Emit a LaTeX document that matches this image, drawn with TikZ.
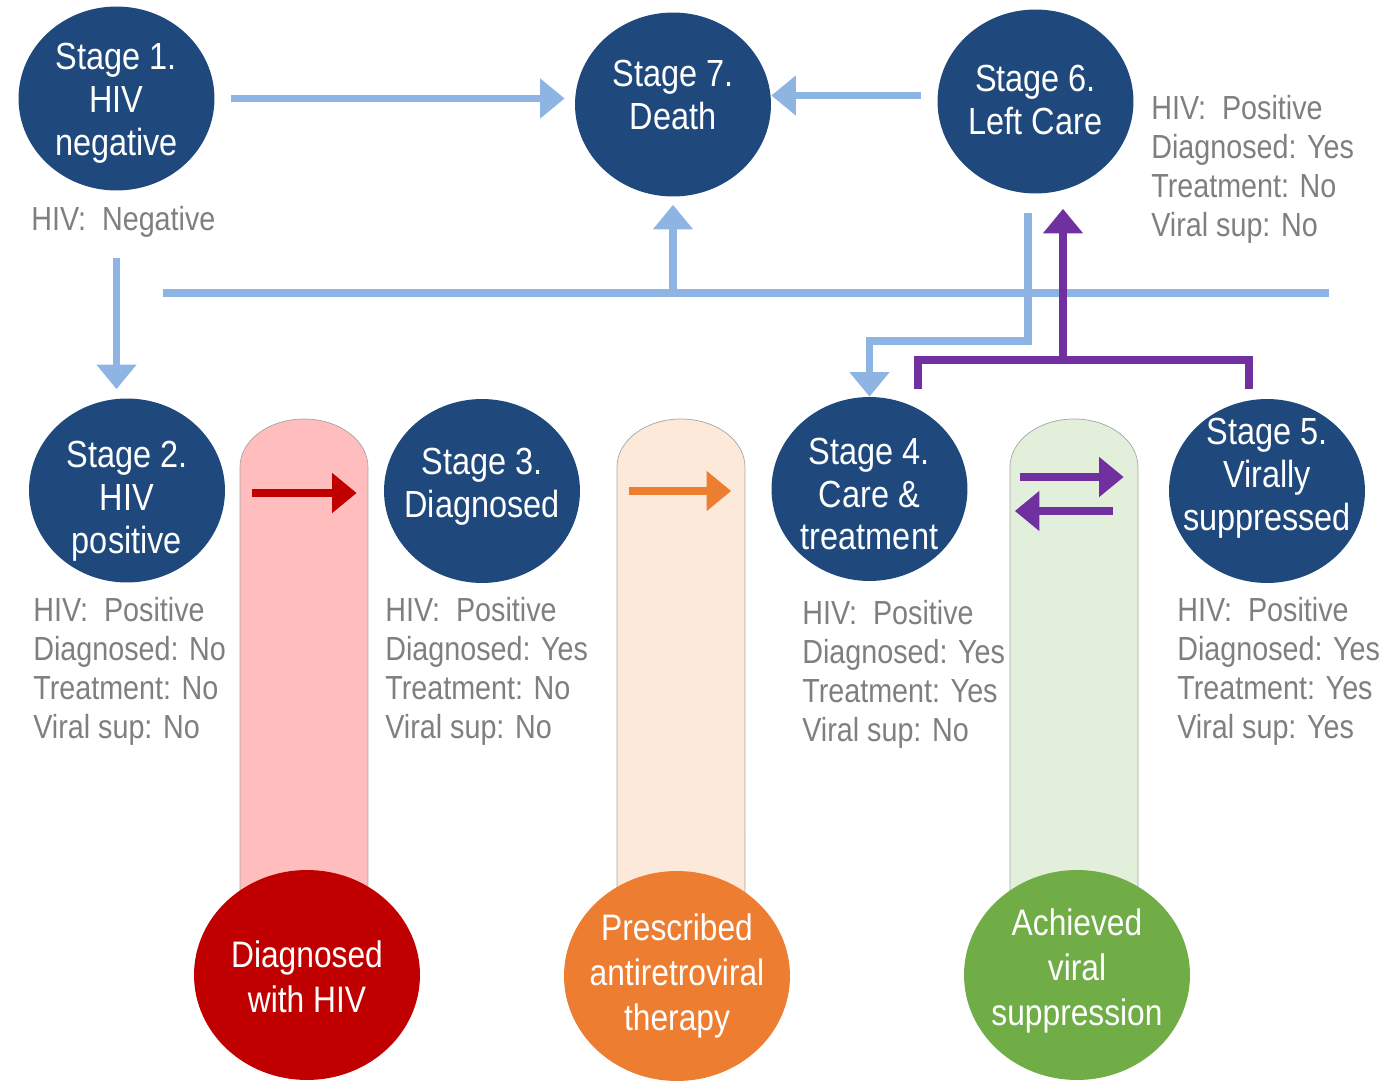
\documentclass[tikz,border=0pt]{standalone}
\usepackage{fontspec}
\setmainfont{Liberation Sans}[FakeStretch=0.86]
\usetikzlibrary{arrows.meta,positioning,calc,shapes.geometric}
\definecolor{HVNavy}{HTML}{1F497D}
\definecolor{HVSky}{HTML}{8DB4E2}
\definecolor{HVPurple}{HTML}{7030A0}
\definecolor{HVRed}{HTML}{C00000}
\definecolor{HVOrange}{HTML}{ED7D31}
\definecolor{HVGreen}{HTML}{70AD47}
\definecolor{HVPink}{HTML}{FFBDBD}
\definecolor{HVPeach}{HTML}{FCE9DA}
\definecolor{HVMint}{HTML}{E2EFDA}
\definecolor{HVGrayText}{HTML}{7F7F7F}
\definecolor{HVEdge}{HTML}{A6A6A6}
\tikzset{
  flow/.style={-{Triangle[length=14pt,width=22pt]},HVSky,line width=4.5pt},
  flowpurple/.style={flow,HVPurple},
  flowred/.style={flow,HVRed},
  floworange/.style={flow,HVOrange},
  bus/.style={HVSky,line width=4.5pt},
  buspurple/.style={bus,HVPurple},
  stage/.style={ellipse,fill=HVNavy,minimum width=3.92cm,minimum height=3.68cm,inner sep=0pt},
  stagetext/.style={text=white,font=\fontsize{21.5}{24.4}\selectfont,align=center,inner sep=0pt},
  outcome/.style={ellipse,minimum width=4.52cm,minimum height=4.2cm,inner sep=0pt},
  outcometext/.style={text=white,font=\fontsize{21}{25.5}\selectfont,align=center,inner sep=0pt},
  status/.style={text=HVGrayText,font=\fontsize{19}{22.1}\selectfont,align=left,anchor=west,inner sep=0pt},
  pill/.style={draw=HVEdge,line width=0.4pt},
}
\newcommand{\pillbar}[2]{%
  \path[pill,fill=#2] (#1,960) -- (#1,467)
    arc[start angle=180,end angle=0,x radius=1.28cm,y radius=0.96cm]
    -- (#1+128,960);%
}
\begin{document}
\begin{tikzpicture}[x=0.02cm,y=-0.02cm]
  \useasboundingbox (0,0) rectangle (1387,1081);
  % event bars behind the lower row
  \pillbar{240}{HVPink}
  \pillbar{617}{HVPeach}
  \pillbar{1010}{HVMint}

  % upper row
  \node[stage] (s1) at (116.5,98.5) {};
  \node[stagetext] (s1txt) at (116.5,103) {Stage 1.\\HIV\\negative};
  \node[stage] (s7) at (673,104.5) {};
  \node[stagetext] (s7txt) at (673,95) {Stage 7.\\Death};
  \node[stage] (s6) at (1035.5,101.5) {};
  \node[stagetext] (s6txt) at (1035.5,100) {Stage 6.\\Left Care};

  % lower row
  \node[stage] (s2) at (127,490.5) {};
  \node[stagetext] (s2txt) at (127,501) {Stage 2.\\HIV\\positive};
  \node[stage] (s3) at (482,491) {};
  \node[stagetext] (s3txt) at (482,487) {Stage 3.\\Diagnosed};
  \node[stage] (s4) at (869.5,489) {};
  \node[stagetext] (s4txt) at (869.5,494) {Stage 4.\\Care \&\\treatment};
  \node[stage] (s5) at (1267,491) {};
  \node[stagetext] (s5txt) at (1267,478) {Stage 5.\\Virally\\suppressed};

  % status of each stage
  \node[status] (s1info) at (31,222) {HIV:~ Negative};
  \node[status] (s6info) at (1151,169.5) {HIV:~ Positive\\Diagnosed: Yes\\Treatment: No\\Viral sup: No};
  \node[status] (s2info) at (33,671.5) {HIV:~ Positive\\Diagnosed: No\\Treatment: No\\Viral sup: No};
  \node[status] (s3info) at (385,671.5) {HIV:~ Positive\\Diagnosed: Yes\\Treatment: No\\Viral sup: No};
  \node[status] (s4info) at (802,674.5) {HIV:~ Positive\\Diagnosed: Yes\\Treatment: Yes\\Viral sup: No};
  \node[status] (s5info) at (1177,671.5) {HIV:~ Positive\\Diagnosed: Yes\\Treatment: Yes\\Viral sup: Yes};

  % transitions to death and out of care
  \draw[flow,shorten <=0.32cm,shorten >=0.2cm] (s1.east) -- (s1.east -| s7.west);
  \draw[flow,shorten <=0.32cm] ([yshift=0.12cm]s6.west) -- ([yshift=0.12cm]s6.west -| s7.east);
  \draw[flow,shorten <=1.34cm,shorten >=0.18cm] (s1.south) -- (s1.south |- s2.north);
  \coordinate (busL) at (163,293);
  \coordinate (busR) at (1329,293);
  \draw[bus] (busL) -- (busR);
  \draw[flow,shorten >=0.16cm] (busL -| s7.south) -- (s7.south);
  \draw[flow] ([xshift=-0.15cm,yshift=-0.38cm]s6.south) |- ([yshift=1.12cm]s4.north) -- (s4.north);
  \draw[buspurple] ([xshift=0.97cm,yshift=0.16cm]s4.north) -- ++(0,-29)
    -| ([xshift=-0.36cm,yshift=0.2cm]s5.north);
  \coordinate (join) at (1063,361);
  \draw[flowpurple,shorten >=0.3cm] (join) -- (join |- s6.south);

  % transitions along the cascade
  \draw[flowred,shorten <=0.54cm,shorten >=0.54cm] ([yshift=-0.05cm]s2.east) -- ([yshift=-0.05cm]s2.east -| s3.west);
  \draw[floworange,shorten <=0.98cm,shorten >=0.8cm] (s3.east) -- (s3.east -| s4.west);
  \draw[flowpurple,shorten <=1.04cm,shorten >=0.9cm] ([yshift=0.24cm]s4.east) -- ([yshift=0.24cm]s4.east -| s5.west);
  \draw[flowpurple,shorten <=1.12cm,shorten >=0.94cm] ([yshift=-0.4cm]s5.west) -- ([yshift=-0.4cm]s5.west -| s4.east);

  % events
  \node[outcome,fill=HVRed] (dx) at (307,975) {};
  \node[outcometext] (dxtxt) at (307,977) {Diagnosed\\with HIV};
  \node[outcome,fill=HVOrange] (art) at (677,976) {};
  \node[outcometext] (arttxt) at (677,976) {Prescribed\\antiretroviral\\therapy};
  \node[outcome,fill=HVGreen] (vs) at (1077,975) {};
  \node[outcometext] (vstxt) at (1077,971) {Achieved\\viral\\suppression};
\end{tikzpicture}
\end{document}
